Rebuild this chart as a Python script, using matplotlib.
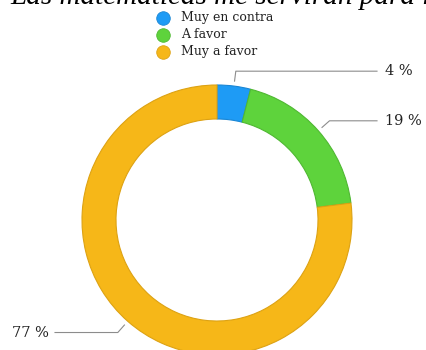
import numpy as np
import matplotlib
matplotlib.use('Agg')
import matplotlib.pyplot as plt

# survey answers for one statement
title = 'Las matemáticas me servirán para la vida'
categories = ['Muy en contra', 'A favor', 'Muy a favor']
percent = [4, 19, 77]
colors = ['#1E9BF5', '#5ED33C', '#F6B718']
edges = ['#1A86D4', '#4FB832', '#DDA213']

W, H = 426, 350
fig = plt.figure(figsize=(W / 100, H / 100), dpi=100)
ax = fig.add_axes([0, 0, 1, 1])

cx, cy, R = 217, 130, 135
wedges, _ = ax.pie(percent, colors=colors, startangle=90, counterclock=False,
                   radius=R, center=(cx, cy),
                   wedgeprops=dict(width=34, linewidth=0.8))
for w, ec in zip(wedges, edges):
    w.set_edgecolor(ec)

# leader lines: radial stub, then horizontal run to the label
for w, p in zip(wedges, percent):
    ang = np.deg2rad((w.theta1 + w.theta2) / 2)
    x0, y0 = cx + 140 * np.cos(ang), cy + 140 * np.sin(ang)
    x1, y1 = cx + 150 * np.cos(ang), cy + 150 * np.sin(ang)
    if np.cos(ang) >= 0:
        x2, tx, ha = 377, 385, 'left'
    else:
        x2, tx, ha = 55, 49, 'right'
    ax.plot([x0, x1, x2], [y0, y1, y1], color='#8c8c8c', lw=0.8)
    ax.text(tx, y1, f'{p} %', ha=ha, va='center', fontsize=10.5,
            family='DejaVu Serif', color='#222222')

# legend
for i, (lab, c) in enumerate(zip(categories, colors)):
    ly = H - 18 - 17 * i
    ax.scatter([163], [ly], s=95, color=c, edgecolors=edges[i], linewidths=0.6)
    ax.text(181, ly, lab, ha='left', va='center', fontsize=9,
            family='DejaVu Serif', color='#222222')

fig.text(10 / W, 1 - 4 / H, title, ha='left', va='baseline', fontsize=21,
         style='italic', family='Liberation Serif', color='black')

ax.set_xlim(0, W)
ax.set_ylim(0, H)
ax.set_aspect('equal')
ax.axis('off')

fig.savefig('out.png', dpi=100, facecolor='white')
